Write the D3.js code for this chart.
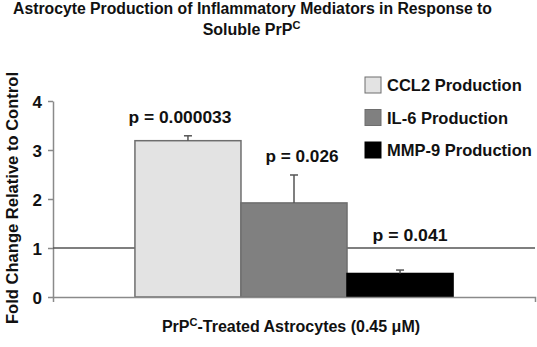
<!DOCTYPE html>
<html>
<head>
<meta charset="utf-8">
<script src="https://cdn.jsdelivr.net/npm/d3@7"></script>
<style>
  body { margin: 0; background: #fff; }
  svg { display: block; font-family: "Liberation Sans", Arial, sans-serif; font-weight: bold; }
</style>
</head>
<body>
<div id="chart"></div>
<script>
// Data
const categories = ["PrPC-Treated Astrocytes (0.45 μM)"];
const seriesNames = ["CCL2 Production", "IL-6 Production", "MMP-9 Production"];
const foldChange = [3.19, 1.92, 0.48];
const errorUpper = [0.10, 0.57, 0.07];
const pValues = ["p = 0.000033", "p = 0.026", "p = 0.041"];
const yTicks = [0, 1, 2, 3, 4];
const controlLevel = 1;

const fills = ["#e3e3e3", "#808080", "#000000"];
const strokes = ["#6e6e6e", "#6e6e6e", "#000000"];

const W = 537, H = 347;
const plot = { left: 53, right: 535, top: 101, bottom: 297 };

const svg = d3.select("#chart")
    .append("svg")
    .attr("width", W)
    .attr("height", H);

// Scales
const yScale = d3.scaleLinear()
    .domain([0, 4])
    .range([plot.bottom, plot.top]);

const xBand = d3.scaleBand()
    .domain(categories)
    .range([plot.left, plot.right])
    .padding(0);

// bars sit inside the single category band with a gap either side
const gap = xBand.bandwidth() * 0.17;
const xSeries = d3.scaleBand()
    .domain(seriesNames)
    .range([xBand(categories[0]) + gap, xBand(categories[0]) + xBand.bandwidth() - gap])
    .padding(0);

// Title
const title = svg.append("g").style("font-size", "16px").attr("fill", "#111");
title.append("text")
    .attr("x", 252.5).attr("y", 14)
    .attr("text-anchor", "middle")
    .attr("textLength", 479)
    .attr("lengthAdjust", "spacingAndGlyphs")
    .text("Astrocyte Production of Inflammatory Mediators in Response to");
const t2 = title.append("text")
    .attr("x", 251.5).attr("y", 35)
    .attr("text-anchor", "middle");
t2.append("tspan").text("Soluble PrP");
t2.append("tspan").attr("dy", -6).style("font-size", "11px").text("C");

// Y axis
const yAxis = svg.append("g")
    .attr("transform", `translate(${plot.left},0)`)
    .call(d3.axisLeft(yScale).tickValues(yTicks).tickFormat(d3.format("d"))
        .tickSize(5).tickSizeOuter(0).tickPadding(6));
yAxis.select(".domain").attr("stroke", "#8a8a8a").attr("stroke-width", 1.5);
yAxis.selectAll(".tick line").attr("stroke", "#8a8a8a").attr("stroke-width", 1.5);
yAxis.selectAll(".tick text")
    .attr("fill", "#111")
    .style("font-size", "17px")
    .style("font-family", "'Liberation Sans', Arial, sans-serif")
    .style("font-weight", "bold")
    .attr("dy", "0.36em");

// Y axis title
svg.append("text")
    .attr("transform", `translate(18,198) rotate(-90)`)
    .attr("text-anchor", "middle")
    .attr("fill", "#111")
    .style("font-size", "16.5px")
    .attr("textLength", 252)
    .attr("lengthAdjust", "spacingAndGlyphs")
    .text("Fold Change Relative to Control");

// Control reference line
svg.append("line")
    .attr("x1", plot.left).attr("x2", plot.right)
    .attr("y1", yScale(controlLevel)).attr("y2", yScale(controlLevel))
    .attr("stroke", "#555").attr("stroke-width", 1.5);

// Bars
const bars = seriesNames.map((s, i) => ({ name: s, value: foldChange[i], err: errorUpper[i], p: pValues[i], i }));

svg.selectAll(".bar")
    .data(bars)
    .enter()
    .append("rect")
    .attr("class", "bar")
    .attr("x", d => xSeries(d.name))
    .attr("width", xSeries.bandwidth())
    .attr("y", d => yScale(d.value))
    .attr("height", d => yScale(0) - yScale(d.value))
    .attr("fill", d => fills[d.i])
    .attr("stroke", d => strokes[d.i])
    .attr("stroke-width", 1.5);

// Error bars (upper only)
const eb = svg.selectAll(".err")
    .data(bars)
    .enter()
    .append("g")
    .attr("class", "err")
    .attr("stroke", "#555")
    .attr("stroke-width", 1.5);
eb.append("line")
    .attr("x1", d => xSeries(d.name) + xSeries.bandwidth() / 2)
    .attr("x2", d => xSeries(d.name) + xSeries.bandwidth() / 2)
    .attr("y1", d => yScale(d.value))
    .attr("y2", d => yScale(d.value + d.err));
eb.append("line")
    .attr("x1", d => xSeries(d.name) + xSeries.bandwidth() / 2 - 4)
    .attr("x2", d => xSeries(d.name) + xSeries.bandwidth() / 2 + 4)
    .attr("y1", d => yScale(d.value + d.err))
    .attr("y2", d => yScale(d.value + d.err));

// X axis: baseline with end ticks
const xAxis = svg.append("g")
    .attr("transform", `translate(0,${plot.bottom})`)
    .call(d3.axisBottom(xBand).tickValues([]).tickSizeOuter(5));
xAxis.select(".domain").attr("stroke", "#8a8a8a").attr("stroke-width", 1.5);

// p-value labels
const nudge = [-8, 8, 10];
const widths = [103, 73, 75];
svg.selectAll(".plabel")
    .data(bars)
    .enter()
    .append("text")
    .attr("class", "plabel")
    .attr("x", d => xSeries(d.name) + xSeries.bandwidth() / 2 + nudge[d.i])
    .attr("y", d => Math.min(yScale(d.value + d.err) - 13, yScale(controlLevel) - 7))
    .attr("text-anchor", "middle")
    .attr("fill", "#111")
    .style("font-size", "17px")
    .attr("textLength", d => widths[d.i])
    .attr("lengthAdjust", "spacingAndGlyphs")
    .text(d => d.p);

// Legend
const legend = svg.selectAll(".legend")
    .data(bars)
    .enter()
    .append("g")
    .attr("class", "legend")
    .attr("transform", d => `translate(365,${77 + d.i * 32.5})`);
legend.append("rect")
    .attr("width", 16).attr("height", 16)
    .attr("fill", d => fills[d.i])
    .attr("stroke", d => strokes[d.i])
    .attr("stroke-width", 1);
legend.append("text")
    .attr("x", 22).attr("y", 14)
    .attr("fill", "#111")
    .style("font-size", "16.5px")
    .text(d => d.name);

// X axis label (category)
const xl = svg.append("text")
    .attr("x", 291).attr("y", 332)
    .attr("text-anchor", "middle")
    .attr("fill", "#111")
    .style("font-size", "16px");
xl.append("tspan").text("PrP");
xl.append("tspan").attr("dy", -6).style("font-size", "11px").text("C");
xl.append("tspan").attr("dy", 6).text("-Treated Astrocytes (0.45 μM)");
</script>
</body>
</html>
